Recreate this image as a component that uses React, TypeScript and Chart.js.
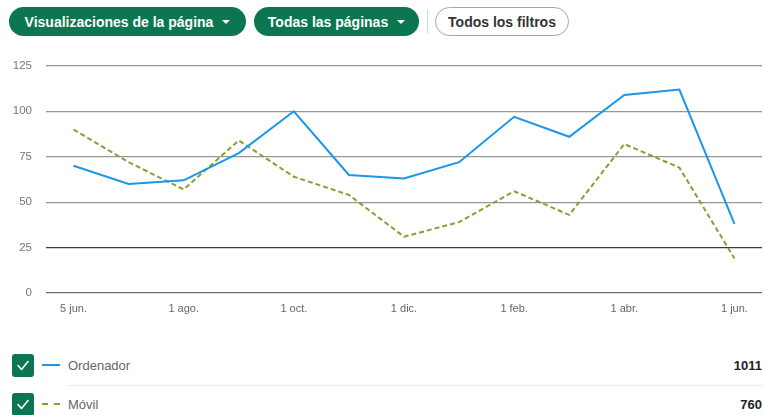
import React, { useEffect, useRef } from "react";
import { Chart, registerables } from "chart.js";
Chart.register(...registerables);

const categories = ["5 jun.", "1 jul.", "1 ago.", "1 sept.", "1 oct.", "1 nov.", "1 dic.", "1 ene.", "1 feb.", "1 mar.", "1 abr.", "1 may.", "1 jun."];
const ordenador = [70, 60, 62, 77, 100, 65, 63, 72, 97, 86, 109, 112, 38];
const movil = [90, 72, 57, 84, 64, 54, 31, 39, 56, 43, 82, 69, 19];
const seriesNames = ["Ordenador", "Móvil"];
const totals = [1011, 760];
const yMin = 0;
const yMax = 125;
const yStep = 25;

const BLUE = "#1a96ea";
const OLIVE = "#8c9c34";
const GREEN = "#0b7650";
const FONT = "'Liberation Sans', Arial, Helvetica, sans-serif";

function Pill({ left, width, text, filled }: { left: number; width: number; text: string; filled: boolean }) {
  return (
    <div
      style={{
        position: "absolute",
        left,
        top: 7,
        width,
        height: 29,
        boxSizing: "border-box",
        borderRadius: 15,
        background: filled ? GREEN : "#fff",
        border: filled ? "none" : "1px solid #a8a8a8",
        color: filled ? "#fff" : "#333",
        display: "flex",
        alignItems: "center",
        justifyContent: "center",
        fontFamily: FONT,
        fontWeight: 700,
        fontSize: 14,
        whiteSpace: "nowrap",
      }}
    >
      <span>{text}</span>
      {filled && (
        <span
          style={{
            display: "inline-block",
            marginLeft: 9,
            width: 0,
            height: 0,
            borderLeft: "4px solid transparent",
            borderRight: "4px solid transparent",
            borderTop: "4px solid #fff",
          }}
        />
      )}
    </div>
  );
}

function LegendRow({ top, name, total, color, dashed }: { top: number; name: string; total: number; color: string; dashed: boolean }) {
  return (
    <>
      <div
        style={{
          position: "absolute",
          left: 12,
          top,
          width: 22,
          height: 23,
          borderRadius: 3,
          background: GREEN,
        }}
      >
        <svg width="22" height="23" viewBox="0 0 22 23">
          <path d="M6 11.5 L9.5 15.5 L16 7.5" stroke="#fff" strokeWidth="1.6" fill="none" strokeLinecap="round" strokeLinejoin="round" />
        </svg>
      </div>
      <div
        style={{
          position: "absolute",
          left: 42,
          top: top + 10,
          width: 18,
          height: 0,
          borderTop: `2px ${dashed ? "dashed" : "solid"} ${color}`,
        }}
      />
      <div
        style={{
          position: "absolute",
          left: 68,
          top: top + 3,
          fontFamily: FONT,
          fontSize: 13,
          color: "#666",
          lineHeight: "17px",
        }}
      >
        {name}
      </div>
      <div
        style={{
          position: "absolute",
          right: 2,
          top: top + 3,
          fontFamily: FONT,
          fontSize: 13,
          fontWeight: 700,
          color: "#222",
          lineHeight: "17px",
        }}
      >
        {total}
      </div>
    </>
  );
}

export default function App() {
  const ref = useRef<HTMLCanvasElement | null>(null);

  useEffect(() => {
    if (!ref.current) return;
    const chart = new Chart(ref.current, {
      type: "line",
      data: {
        labels: categories,
        datasets: [
          {
            label: seriesNames[0],
            data: ordenador,
            borderColor: BLUE,
            backgroundColor: BLUE,
            borderWidth: 2,
            pointRadius: 0,
            tension: 0,
          },
          {
            label: seriesNames[1],
            data: movil,
            borderColor: OLIVE,
            backgroundColor: OLIVE,
            borderWidth: 2,
            borderDash: [5, 3],
            pointRadius: 0,
            tension: 0,
          },
        ],
      },
      options: {
        animation: false,
        responsive: false,
        maintainAspectRatio: false,
        layout: { padding: { top: 10, left: 0, right: 2, bottom: 0 } },
        plugins: { legend: { display: false }, tooltip: { enabled: false } },
        scales: {
          x: {
            offset: true,
            grid: { display: false },
            border: { display: false },
            ticks: {
              autoSkip: false,
              maxRotation: 0,
              padding: 1,
              color: "#666",
              font: { family: FONT, size: 11 },
              callback: (_v: any, i: number) => (i % 2 === 0 ? categories[i] : ""),
            },
            afterFit: (s: any) => {
              s.height = 27;
            },
          },
          y: {
            min: yMin,
            max: yMax,
            ticks: {
              stepSize: yStep,
              padding: 14,
              color: "#777",
              font: { family: FONT, size: 11.5 },
            },
            grid: {
              drawTicks: false,
              lineWidth: 1.3,
              color: (ctx: any) =>
                ctx.tick && ctx.tick.value === 25 ? "#3a3a3a" : ctx.tick && ctx.tick.value === 0 ? "#6e6e6e" : "#969696",
            },
            border: { display: false },
            afterFit: (s: any) => {
              s.width = 46;
            },
          },
        },
      },
    });
    return () => chart.destroy();
  }, []);

  return (
    <div style={{ position: "absolute", left: 0, top: 0, width: 764, height: 415, overflow: "hidden", background: "#fff" }}>
      <Pill left={9} width={237} text="Visualizaciones de la página" filled />
      <Pill left={254} width={165} text="Todas las páginas" filled />
      <div style={{ position: "absolute", left: 427, top: 10, width: 1, height: 24, background: "#d6d6d6" }} />
      <Pill left={435} width={134} text="Todos los filtros" filled={false} />
      <canvas ref={ref} width={764} height={275} style={{ position: "absolute", left: 0, top: 45, width: 764, height: 275 }} />
      <LegendRow top={354} name={seriesNames[0]} total={totals[0]} color={BLUE} dashed={false} />
      <div style={{ position: "absolute", left: 67, top: 385, right: 0, height: 1, background: "#ececec" }} />
      <LegendRow top={393} name={seriesNames[1]} total={totals[1]} color={OLIVE} dashed />
    </div>
  );
}
